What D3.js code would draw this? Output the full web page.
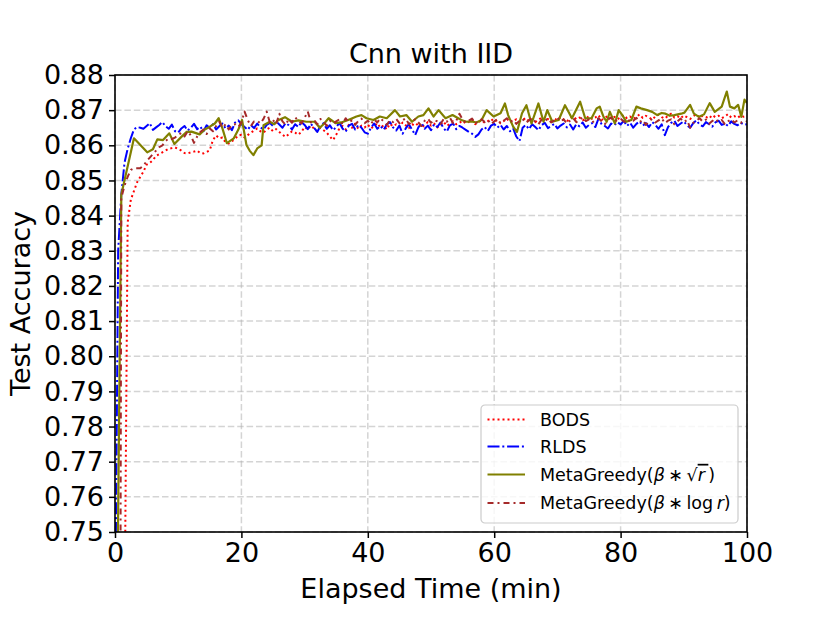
<!DOCTYPE html>
<html>
<head>
<meta charset="utf-8">
<script src="https://cdn.jsdelivr.net/npm/d3@7/dist/d3.min.js"></script>
<style>
body { margin: 0; background: #fff; }
text { font-family: "DejaVu Sans", sans-serif; fill: #000; }
</style>
</head>
<body>
<div id="chart-area"></div>
<script>
// readings, every half minute for the three dense runs
const halfMinutes = d3.range(0, 100.5, 0.5)

const bodsAcc = [
    0.450, 0.500, 0.600, 0.720, 0.838, 0.8445, 0.8470, 0.8495, 0.8510, 0.8525,
    0.8545, 0.8550, 0.8558, 0.8570, 0.8575, 0.8580, 0.8585, 0.8590, 0.8592, 0.8594,
    0.8590, 0.8585, 0.8578, 0.8577, 0.8580, 0.8582, 0.8585, 0.8578, 0.8577, 0.8581,
    0.8586, 0.8615, 0.8628, 0.8620, 0.8622, 0.8608, 0.8605, 0.8612, 0.8618, 0.8628,
    0.8630, 0.8622, 0.8629, 0.8636, 0.8642, 0.8648, 0.8640, 0.8636, 0.8645, 0.8650,
    0.8640, 0.8646, 0.8638, 0.8630, 0.8624, 0.8632, 0.8640, 0.8636, 0.8630, 0.8638,
    0.8652, 0.8645, 0.8656, 0.8648, 0.8640, 0.8650, 0.8643, 0.8636, 0.8625, 0.8615,
    0.8630, 0.8648, 0.8655, 0.8645, 0.8658, 0.8650, 0.8662, 0.8647, 0.8656, 0.8651,
    0.8659, 0.8648, 0.8655, 0.8663, 0.8650, 0.8657, 0.8645, 0.8661, 0.8654, 0.8660,
    0.8652, 0.8665, 0.8657, 0.8649, 0.8660, 0.8655, 0.8663, 0.8650, 0.8658, 0.8666,
    0.8656, 0.8662, 0.8651, 0.8659, 0.8667, 0.8655, 0.8661, 0.8668, 0.8660, 0.8664,
    0.8670, 0.8662, 0.8667, 0.8673, 0.8660, 0.8666, 0.8671, 0.8664, 0.8669, 0.8675,
    0.8667, 0.8672, 0.8663, 0.8669, 0.8676, 0.8665, 0.8670, 0.8674, 0.8668, 0.8672,
    0.8678, 0.8669, 0.8674, 0.8666, 0.8672, 0.8679, 0.8670, 0.8675, 0.8668, 0.8676,
    0.8671, 0.8680, 0.8673, 0.8668, 0.8677, 0.8682, 0.8674, 0.8679, 0.8671, 0.8676,
    0.8683, 0.8675, 0.8679, 0.8686, 0.8672, 0.8678, 0.8684, 0.8676, 0.8681, 0.8674,
    0.8680, 0.8686, 0.8677, 0.8682, 0.8675, 0.8681, 0.8688, 0.8678, 0.8684, 0.8679,
    0.8673, 0.8682, 0.8687, 0.8680, 0.8676, 0.8684, 0.8690, 0.8679, 0.8683, 0.8677,
    0.8685, 0.8680, 0.8675, 0.8683, 0.8688, 0.8678, 0.8684, 0.8681, 0.8676, 0.8686,
    0.8680, 0.8684, 0.8677, 0.8682, 0.8689, 0.8679, 0.8683, 0.8678, 0.8685, 0.8681,
    0.8682
]

const rldsAcc = [
    0.716, 0.830, 0.846, 0.855, 0.859, 0.862, 0.8645, 0.8652, 0.8650, 0.8647,
    0.8655, 0.8663, 0.8644, 0.8651, 0.8658, 0.8666, 0.8654, 0.8647, 0.8659, 0.8640,
    0.8636, 0.8648, 0.8655, 0.8642, 0.8650, 0.8661, 0.8646, 0.8653, 0.8640, 0.8657,
    0.8649, 0.8660, 0.8645, 0.8654, 0.8662, 0.8648, 0.8656, 0.8643, 0.8665, 0.8671,
    0.8660, 0.8652, 0.8644, 0.8657, 0.8649, 0.8662, 0.8651, 0.8645, 0.8658, 0.8664,
    0.8655, 0.8668, 0.8659, 0.8650, 0.8663, 0.8657, 0.8645, 0.8660, 0.8652, 0.8666,
    0.8658, 0.8646, 0.8661, 0.8650, 0.8638, 0.8655, 0.8663, 0.8647, 0.8657, 0.8643,
    0.8652, 0.8664, 0.8648, 0.8639, 0.8656, 0.8661, 0.8645, 0.8658, 0.8650, 0.8637,
    0.8633, 0.8650, 0.8662, 0.8647, 0.8655, 0.8644, 0.8659, 0.8666, 0.8651, 0.8642,
    0.8656, 0.8633, 0.8648, 0.8660, 0.8645, 0.8629, 0.8651, 0.8663, 0.8647, 0.8656,
    0.8643, 0.8660, 0.8652, 0.8665, 0.8648, 0.8639, 0.8657, 0.8662, 0.8646, 0.8655,
    0.8650, 0.8644, 0.8638, 0.8633, 0.8624, 0.8631, 0.8645, 0.8652, 0.8641, 0.8656,
    0.8661, 0.8650, 0.8658, 0.8645, 0.8655, 0.8640, 0.8648, 0.8625, 0.8612, 0.8650,
    0.8658, 0.8646, 0.8660, 0.8652, 0.8643, 0.8657, 0.8664, 0.8649, 0.8655, 0.8661,
    0.8648, 0.8656, 0.8662, 0.8651, 0.8659, 0.8645, 0.8660, 0.8654, 0.8665, 0.8650,
    0.8658, 0.8663, 0.8652, 0.8676, 0.8660, 0.8655, 0.8648, 0.8662, 0.8657, 0.8666,
    0.8659, 0.8670, 0.8655, 0.8664, 0.8650, 0.8661, 0.8668, 0.8656, 0.8663, 0.8652,
    0.8666, 0.8658, 0.8647, 0.8660, 0.8629, 0.8652, 0.8664, 0.8670, 0.8655, 0.8662,
    0.8668, 0.8657, 0.8650, 0.8663, 0.8671, 0.8659, 0.8654, 0.8666, 0.8660, 0.8653,
    0.8665, 0.8670, 0.8658, 0.8662, 0.8655, 0.8668, 0.8661, 0.8657, 0.8664, 0.8659,
    0.8660
]

const logAcc = [
    0.400, 0.450, 0.845, 0.8485, 0.8510, 0.8530, 0.8535, 0.8535, 0.8535, 0.8542,
    0.8555, 0.8565, 0.8575, 0.8585, 0.8595, 0.8600, 0.8612, 0.8620, 0.8618, 0.8622,
    0.8630, 0.8635, 0.8625, 0.8640, 0.8628, 0.8607, 0.8625, 0.8638, 0.8645, 0.8632,
    0.8648, 0.8640, 0.8655, 0.8667, 0.8650, 0.8660, 0.8645, 0.8658, 0.8660, 0.8652,
    0.8665, 0.8696, 0.8672, 0.8655, 0.8668, 0.8670, 0.8662, 0.8675, 0.8696, 0.8665,
    0.8672, 0.8660, 0.8690, 0.8668, 0.8658, 0.8675, 0.8664, 0.8680, 0.8670, 0.8662,
    0.8678, 0.8696, 0.8665, 0.8672, 0.8660, 0.8675, 0.8668, 0.8655, 0.8670, 0.8662,
    0.8668, 0.8674, 0.8660, 0.8677, 0.8665, 0.8671, 0.8658, 0.8669, 0.8676, 0.8663,
    0.8670, 0.8660, 0.8674, 0.8665, 0.8677, 0.8668, 0.8658, 0.8672, 0.8666, 0.8675,
    0.8663, 0.8671, 0.8677, 0.8660, 0.8668, 0.8674, 0.8665, 0.8655, 0.8670, 0.8676,
    0.8664, 0.8672, 0.8668, 0.8660, 0.8675, 0.8667, 0.8678, 0.8663, 0.8670, 0.8690,
    0.8673, 0.8665, 0.8670, 0.8676, 0.8662, 0.8669, 0.8674, 0.8666, 0.8672, 0.8660,
    0.8668, 0.8675, 0.8663, 0.8670, 0.8677, 0.8666, 0.8672, 0.8661, 0.8669, 0.8675,
    0.8664, 0.8671, 0.8678, 0.8667, 0.8660, 0.8673, 0.8669, 0.8676, 0.8665, 0.8671,
    0.8678, 0.8668, 0.8674, 0.8662, 0.8670, 0.8677, 0.8666, 0.8672, 0.8680, 0.8669,
    0.8674, 0.8665, 0.8671, 0.8677, 0.8668, 0.8660, 0.8673, 0.8679, 0.8667, 0.8672,
    0.8676, 0.8668, 0.8663, 0.8674, 0.8670, 0.8678, 0.8666, 0.8672, 0.8658, 0.8669,
    0.8675, 0.8665, 0.8671, 0.8677, 0.8663, 0.8670, 0.8674, 0.8660, 0.8668, 0.8676,
    0.8666, 0.8672, 0.8650, 0.8664, 0.8670, 0.8677, 0.8667, 0.8673, 0.8661, 0.8669,
    0.8675, 0.8666, 0.8672, 0.8660, 0.8668, 0.8674, 0.8665, 0.8671, 0.8664, 0.8670,
    0.8668
]

// the sqrt run is sparser, so it keeps its own time stamps
const sqrtMinutes = [
    0, 1.0, 3.0, 5.1, 6.0, 6.7, 7.6, 8.6, 9.4, 10.5,
    11.3, 12.1, 13.4, 14.2, 15.0, 15.8, 16.4, 17.0, 17.7, 18.8,
    19.5, 20.1, 20.8, 21.3, 21.9, 22.5, 23.2, 23.5, 24.5, 25.2,
    25.8, 26.9, 28.0, 29.0, 30.3, 31.6, 32.4, 33.0, 33.8, 34.9,
    35.8, 36.9, 38.2, 39.0, 39.8, 40.9, 41.9, 43.0, 44.3, 45.1,
    46.1, 47.0, 48.0, 48.8, 49.6, 50.4, 51.2, 52.3, 53.4, 54.8,
    55.6, 56.4, 57.2, 58.0, 58.8, 59.9, 61.0, 61.7, 62.2, 63.0,
    63.6, 64.4, 65.1, 65.9, 67.0, 67.8, 68.4, 69.2, 70.2, 71.2,
    72.3, 73.6, 74.4, 75.4, 76.2, 76.7, 77.3, 77.8, 78.3, 79.1,
    79.7, 80.3, 80.9, 81.7, 82.5, 83.2, 84.2, 85.0, 85.8, 86.5,
    87.1, 87.8, 88.5, 89.6, 90.1, 91.0, 91.6, 92.4, 93.2, 94.1,
    94.9, 96.0, 96.8, 97.3, 98.0, 98.6, 99.1, 99.6, 100
]
const sqrtAcc = [
    0.665, 0.846, 0.862, 0.858, 0.8589, 0.8617, 0.8615, 0.8634, 0.8604, 0.8624,
    0.8638, 0.8639, 0.8631, 0.8645, 0.8653, 0.8662, 0.8677, 0.8648, 0.8606, 0.8620,
    0.8644, 0.8672, 0.8601, 0.8585, 0.8572, 0.8591, 0.8600, 0.8657, 0.8667, 0.8660,
    0.8671, 0.8680, 0.8667, 0.8671, 0.8667, 0.8667, 0.8650, 0.8660, 0.8677, 0.8663,
    0.8665, 0.8672, 0.8682, 0.8686, 0.8677, 0.8672, 0.8682, 0.8677, 0.8700, 0.8682,
    0.8686, 0.8667, 0.8682, 0.8686, 0.8705, 0.8682, 0.8700, 0.8677, 0.8686, 0.8672,
    0.8667, 0.8668, 0.8665, 0.8672, 0.8700, 0.8682, 0.8691, 0.8719, 0.8686, 0.8653,
    0.8638, 0.8691, 0.8714, 0.8662, 0.8719, 0.8667, 0.8700, 0.8667, 0.8672, 0.8714,
    0.8677, 0.8724, 0.8677, 0.8677, 0.8705, 0.8710, 0.8681, 0.8667, 0.8695, 0.8662,
    0.8700, 0.8685, 0.8667, 0.8672, 0.8710, 0.8705, 0.8700, 0.8695, 0.8686, 0.8692,
    0.8690, 0.8684, 0.8686, 0.8690, 0.8693, 0.8715, 0.8690, 0.8681, 0.8688, 0.8720,
    0.8695, 0.8710, 0.8753, 0.8710, 0.8705, 0.8715, 0.8681, 0.8730, 0.8720
]

const xTicks = [0, 20, 40, 60, 80, 100]
const yTicks = [0.75, 0.76, 0.77, 0.78, 0.79, 0.80, 0.81, 0.82, 0.83, 0.84, 0.85, 0.86, 0.87, 0.88]

const MARGIN = { LEFT: 115, RIGHT: 83, TOP: 75, BOTTOM: 91 }
const WIDTH = 830 - MARGIN.LEFT - MARGIN.RIGHT
const HEIGHT = 623 - MARGIN.TOP - MARGIN.BOTTOM

const svg = d3.select("#chart-area").append("svg")
    .attr("width", 830)
    .attr("height", 623)

svg.append("rect").attr("width", 830).attr("height", 623).attr("fill", "#fff")

const g = svg.append("g")
    .attr("transform", `translate(${MARGIN.LEFT},${MARGIN.TOP})`)

const x = d3.scaleLinear().domain([0, 100]).range([0, WIDTH])
const y = d3.scaleLinear().domain([0.75, 0.88]).range([HEIGHT, 0])

// dashed grid
g.append("g").selectAll("line.v")
    .data(xTicks)
    .enter().append("line")
    .attr("x1", d => x(d)).attr("x2", d => x(d))
    .attr("y1", 0).attr("y2", HEIGHT)
g.append("g").selectAll("line.h")
    .data(yTicks)
    .enter().append("line")
    .attr("x1", 0).attr("x2", WIDTH)
    .attr("y1", d => y(d)).attr("y2", d => y(d))
g.selectAll("g line")
    .attr("stroke", "#b0b0b0")
    .attr("stroke-opacity", 0.55)
    .attr("stroke-width", 1.5)
    .attr("stroke-dasharray", "6.5,2.9")

g.append("clipPath").attr("id", "plot-clip")
    .append("rect").attr("width", WIDTH).attr("height", HEIGHT)

const series = [
    { label: "BODS", t: halfMinutes, v: bodsAcc, color: "#ff0000", dash: "2,3", width: 2 },
    { label: "RLDS", t: halfMinutes, v: rldsAcc, color: "#0000ff", dash: "12,2.8,2,2.8", width: 2 },
    { label: "sqrt", t: sqrtMinutes, v: sqrtAcc, color: "#808000", dash: null, width: 2.2 },
    { label: "log", t: halfMinutes, v: logAcc, color: "#a52a2a", dash: "6,4,2,4", width: 2 }
]

const line = d3.line()
    .x(d => x(d[0]))
    .y(d => y(d[1]))

const plot = g.append("g").attr("clip-path", "url(#plot-clip)")
series.forEach(s => {
    plot.append("path")
        .datum(s.t.map((t, i) => [t, s.v[i]]))
        .attr("d", line)
        .attr("fill", "none")
        .attr("stroke", s.color)
        .attr("stroke-width", s.width)
        .attr("stroke-dasharray", s.dash)
        .attr("stroke-linejoin", "round")
})

// axes
const xAxis = g.append("g")
    .attr("transform", `translate(0, ${HEIGHT})`)
    .call(d3.axisBottom(x).tickValues(xTicks).tickSize(6).tickSizeOuter(0).tickPadding(5))
const yAxis = g.append("g")
    .call(d3.axisLeft(y).tickValues(yTicks).tickFormat(d3.format(".2f")).tickSize(6).tickSizeOuter(0).tickPadding(5))

;[xAxis, yAxis].forEach(a => {
    a.select(".domain").remove()
    a.selectAll(".tick line").attr("stroke", "#000").attr("stroke-width", 1.5)
    a.selectAll("text")
        .attr("font-family", "DejaVu Sans, sans-serif")
        .attr("font-size", "27px")
        .attr("fill", "#000")
})

g.append("rect")
    .attr("width", WIDTH).attr("height", HEIGHT)
    .attr("fill", "none")
    .attr("stroke", "#000")
    .attr("stroke-width", 1.6)

// labels
g.append("text")
    .attr("x", WIDTH / 2).attr("y", -12)
    .attr("text-anchor", "middle")
    .attr("font-size", "27px")
    .text("Cnn with IID")

g.append("text")
    .attr("x", WIDTH / 2).attr("y", HEIGHT + 66)
    .attr("text-anchor", "middle")
    .attr("font-size", "27px")
    .text("Elapsed Time (min)")

g.append("text")
    .attr("x", -HEIGHT / 2).attr("y", -85)
    .attr("transform", "rotate(-90)")
    .attr("text-anchor", "middle")
    .attr("font-size", "27px")
    .text("Test Accuracy")

// legend
const LEG = { W: 257, H: 118, PAD: 9 }
const legend = g.append("g")
    .attr("transform", `translate(${WIDTH - LEG.PAD - LEG.W}, ${HEIGHT - LEG.PAD - LEG.H})`)

legend.append("rect")
    .attr("width", LEG.W).attr("height", LEG.H)
    .attr("rx", 4)
    .attr("fill", "#fff").attr("fill-opacity", 0.8)
    .attr("stroke", "#cccccc").attr("stroke-width", 1.2)

const rowY = [14.5, 41.5, 69.5, 98]
series.forEach((s, i) => {
    legend.append("line")
        .attr("x1", 6.5).attr("x2", 44)
        .attr("y1", rowY[i]).attr("y2", rowY[i])
        .attr("stroke", s.color)
        .attr("stroke-width", s.width)
        .attr("stroke-dasharray", s.dash)

    const txt = legend.append("text")
        .attr("x", 59).attr("y", rowY[i])
        .attr("dy", "0.36em")
        .attr("font-size", "17.5px")

    if (s.label === "sqrt") {
        txt.append("tspan").text("MetaGreedy(")
        txt.append("tspan").attr("font-style", "italic").text("β")
        txt.append("tspan").text("\u2009∗\u2009√")
        txt.append("tspan").attr("font-style", "italic")
            .style("text-decoration", "overline").text("r\u2009")
        txt.append("tspan").text(")")
    } else if (s.label === "log") {
        txt.append("tspan").text("MetaGreedy(")
        txt.append("tspan").attr("font-style", "italic").text("β")
        txt.append("tspan").text("\u2009∗\u2009log\u2009")
        txt.append("tspan").attr("font-style", "italic").text("r")
        txt.append("tspan").text(")")
    } else {
        txt.text(s.label)
    }
})
</script>
</body>
</html>
